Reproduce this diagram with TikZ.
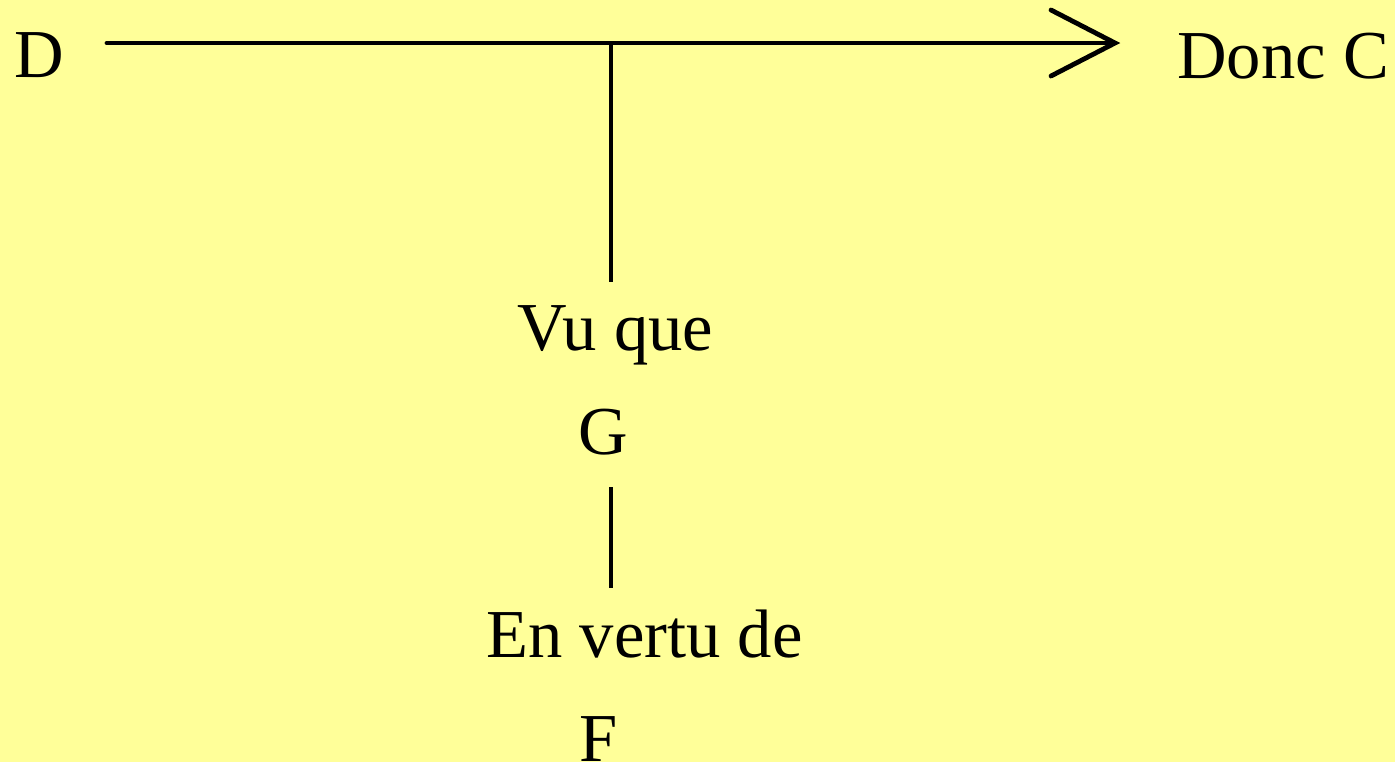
\documentclass[tikz,border=0pt]{standalone}
\usepackage{fontspec}
\setmainfont{Liberation Serif}
\definecolor{bgyellow}{RGB}{255,255,153}
\begin{document}
\begin{tikzpicture}[x=0.5pt,y=-0.5pt,
  lbl/.style={anchor=base west,inner sep=0pt,font=\fontsize{34.3}{41}\selectfont},
  conn/.style={line width=2.4pt,line cap=round,line join=miter}]
\fill[bgyellow] (0,0) rectangle (1395,762);
\useasboundingbox (0,0) rectangle (1395,762);
\node[lbl] (D) at (14,77) {D};
\node[lbl] (C) at (1177,78) {Donc C};
\node[lbl] (V) at (517,350) {Vu que};
\node[lbl] (G) at (578,454) {G};
\node[lbl] (E) at (486,657) {En vertu de};
\node[lbl] (F) at (579,761) {F};
\coordinate (s) at (107,43);
\coordinate (e) at (1115,43);
\coordinate (b1) at (1051,10);
\coordinate (b2) at (1051,76);
\coordinate (j) at (611,43);
\coordinate (v) at (611,282);
\coordinate (g1) at (611,487);
\coordinate (g2) at (611,588);
\draw[conn] (s) -- (e);
\draw[conn] (b1) -- (e) -- (b2);
\draw[conn,line cap=butt] (j) -- (v);
\draw[conn,line cap=butt] (g1) -- (g2);
\end{tikzpicture}
\end{document}
